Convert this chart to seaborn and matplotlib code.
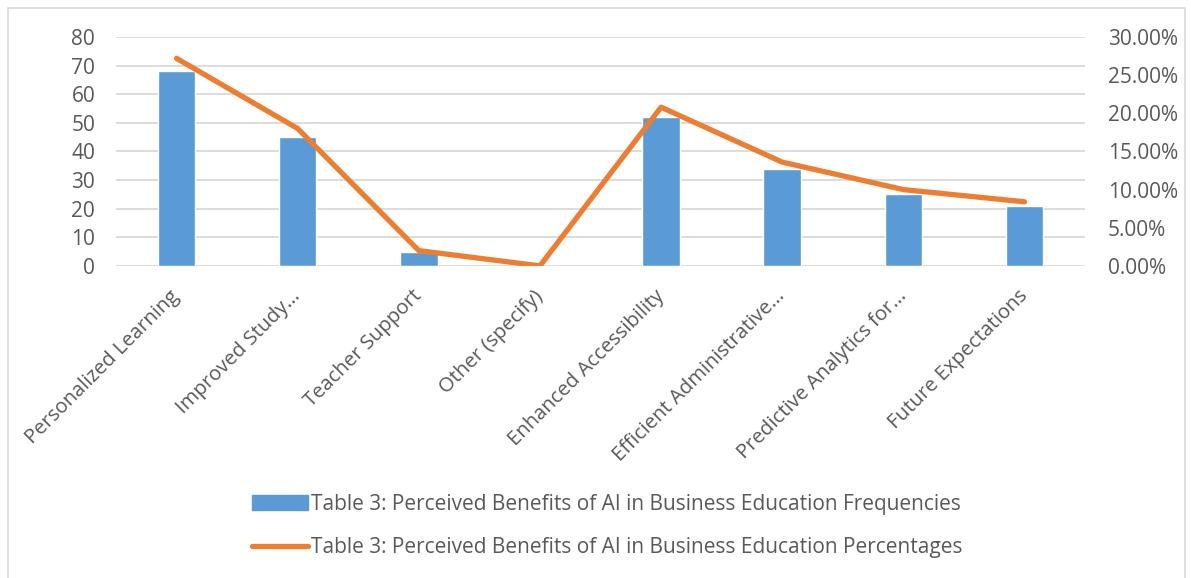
import matplotlib
matplotlib.use("Agg")
import matplotlib.pyplot as plt
import matplotlib.transforms as mtransforms
import seaborn as sns
import numpy as np
from matplotlib.patches import Rectangle
from matplotlib.lines import Line2D
from matplotlib.ticker import FuncFormatter, MultipleLocator

categories = ["Personalized Learning", "Improved Study...", "Teacher Support",
              "Other (specify)", "Enhanced Accessibility", "Efficient Administrative...",
              "Predictive Analytics for...", "Future Expectations"]
frequencies = [68, 45, 5, 0, 52, 34, 25, 21]
percentages = [27.2, 18.0, 2.0, 0.0, 20.8, 13.6, 10.0, 8.4]
label_freq = "Table 3: Perceived Benefits of AI in Business Education Frequencies"
label_pct = "Table 3: Perceived Benefits of AI in Business Education Percentages"

sns.set_style("white")
plt.rcParams['font.family'] = ['Open Sans', 'DejaVu Sans']

bar_color = "#5B9BD5"
line_color = "#ED7D31"
text_color = "#595959"
grid_color = "#D9D9D9"

fig = plt.figure(figsize=(11.91, 5.78), dpi=100)
ax = fig.add_axes([0.0974, 0.540, 0.8136, 0.396])

sns.barplot(x=categories, y=frequencies, color=bar_color, width=0.31, ax=ax,
            saturation=1, order=categories)
ax.set_ylim(0, 80)
ax.set_xlim(-0.5, len(categories) - 0.5)
ax.yaxis.set_major_locator(MultipleLocator(10))
ax.grid(axis='y', color=grid_color, linewidth=1.3)
ax.set_axisbelow(True)
for s in ax.spines.values():
    s.set_visible(False)
ax.tick_params(axis='y', length=0, labelsize=15, labelcolor=text_color, pad=15)
ax.tick_params(axis='x', length=0, labelsize=14.6, labelcolor=text_color, pad=14)
ax.set_xticks(range(len(categories)))
ax.set_xticklabels(categories, rotation=45, ha='right', va='center',
                   rotation_mode='anchor')
offset = mtransforms.ScaledTranslation(0.0, -0.08, fig.dpi_scale_trans)
for lbl in ax.get_xticklabels():
    lbl.set_transform(lbl.get_transform() + offset)
ax.set_xlabel("")
ax.set_ylabel("")

ax2 = ax.twinx()
sns.lineplot(x=list(range(len(categories))), y=percentages, ax=ax2, color=line_color,
             linewidth=3.8, sort=False, solid_capstyle='round', solid_joinstyle='round')
ax2.set_ylim(0, 30)
ax2.set_xlim(-0.5, len(categories) - 0.5)
ax2.yaxis.set_major_locator(MultipleLocator(5))
ax2.yaxis.set_major_formatter(FuncFormatter(lambda v, p: f"{v:.2f}%"))
ax2.tick_params(axis='y', length=0, labelsize=15, labelcolor=text_color, pad=16.5)
for s in ax2.spines.values():
    s.set_visible(False)
ax2.set_ylabel("")
ax2.grid(False)

handles = [Rectangle((0, 0), 1, 1, color=bar_color),
           Line2D([0], [0], color=line_color, linewidth=3.8, solid_capstyle='round')]
fig.legend(handles, [label_freq, label_pct], loc='center', bbox_to_anchor=(0.51, 0.090),
           frameon=False, fontsize=15, labelcolor=text_color, handlelength=2.65,
           handletextpad=0.15, labelspacing=1.05)

fig.patches.append(Rectangle((8 / 1191, -0.01), 1177 / 1191, 1 - 8 / 578 + 0.01,
                             transform=fig.transFigure, fill=False,
                             edgecolor=grid_color, linewidth=1.2))

fig.savefig("out.png", dpi=100)
